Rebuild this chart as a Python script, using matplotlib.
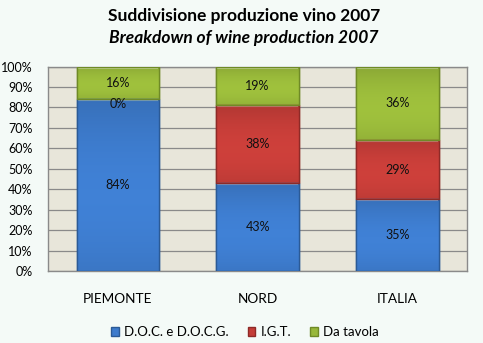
import matplotlib.pyplot as plt
import numpy as np
from matplotlib.colors import to_rgb

# wine production shares, percent
regions = ["PIEMONTE", "NORD", "ITALIA"]
doc = [84, 43, 35]
igt = [0, 38, 29]
tavola = [16, 19, 36]
series_names = ["D.O.C. e D.O.C.G.", "I.G.T.", "Da tavola"]
yticks = [0, 10, 20, 30, 40, 50, 60, 70, 80, 90, 100]

colors = ["#3d7bcc", "#c43d38", "#98b83a"]
edges = ["#2b5a96", "#8e2a27", "#6f8a26"]

plt.rcParams["font.family"] = ["Lato", "DejaVu Sans"]

fig = plt.figure(figsize=(4.83, 3.43), dpi=100, facecolor="#f4faf7")
ax = fig.add_axes([0.0994, 0.21, 0.868, 0.596])
ax.set_facecolor("#e8e6da")


def shade(bar, color):
    # vertical gradient: lighter in the middle, darker towards the bottom
    base = np.array(to_rgb(color))
    t = np.linspace(0, 1, 64)[:, None]
    prof = 0.85 + 0.2 * np.sin(np.pi * (0.2 + 0.7 * t))
    img = np.clip(base[None, None, :] * prof[:, :, None], 0, 1)
    x0, y0 = bar.get_x(), bar.get_y()
    im = ax.imshow(img, extent=[x0, x0 + bar.get_width(), y0, y0 + bar.get_height()],
                   aspect="auto", origin="lower", zorder=3.5, interpolation="bilinear")
    im.set_clip_path(bar)


x = np.arange(len(regions))
bottom = np.zeros(len(regions))
for vals, name, c, ec in zip([doc, igt, tavola], series_names, colors, edges):
    vals = np.array(vals, dtype=float)
    bars = ax.bar(x, vals, 0.59, bottom=bottom, color=c, edgecolor=ec,
                  linewidth=1.0, label=name, zorder=3)
    for b in bars:
        if b.get_height() > 0:
            shade(b, c)
            # lighter bevel on top of each segment
            ax.plot([b.get_x() + 0.012, b.get_x() + b.get_width() - 0.012],
                    [b.get_y() + b.get_height() - 0.5] * 2,
                    color="white", alpha=0.4, lw=1.5, zorder=4)
            ax.bar(b.get_x() + b.get_width() / 2, b.get_height(), b.get_width(),
                   bottom=b.get_y(), fill=False, edgecolor=ec, lw=1.0, zorder=4.2)
    for xi, v, bt in zip(x, vals, bottom):
        ax.text(xi, bt + v / 2 if v > 0 else bt - 2.2, f"{int(v)}%",
                ha="center", va="center", fontsize=9, color="#111111", zorder=5)
    bottom += vals

ax.set_xlim(-0.5, 2.5)
ax.set_ylim(0, 100)
ax.set_yticks(yticks)
ax.set_yticklabels([f"{t}%" for t in yticks], fontsize=9)
ax.set_xticks(x)
ax.set_xticklabels(regions, fontsize=9.8)
ax.tick_params(axis="y", length=0, pad=11)
ax.tick_params(axis="x", length=0, pad=16)
ax.grid(axis="y", color="#8a8a8a", lw=0.9, zorder=1)

for s in ax.spines.values():
    s.set_color("#8a8a8a")
    s.set_linewidth(1.0)

fig.text(0.505, 0.952, "Suddivisione produzione vino 2007", ha="center",
         va="center", fontsize=12.5, fontweight="bold")
fig.text(0.505, 0.888, "Breakdown of wine production 2007", ha="center",
         va="center", fontsize=12.5, fontweight="bold", style="italic")

ax.legend(loc="center", bbox_to_anchor=(0.47, -0.30), ncol=3, frameon=False,
          fontsize=9.5, handlelength=0.6, handleheight=0.6, handletextpad=0.4,
          columnspacing=1.4)

fig.savefig("out.png", dpi=100, facecolor=fig.get_facecolor())
